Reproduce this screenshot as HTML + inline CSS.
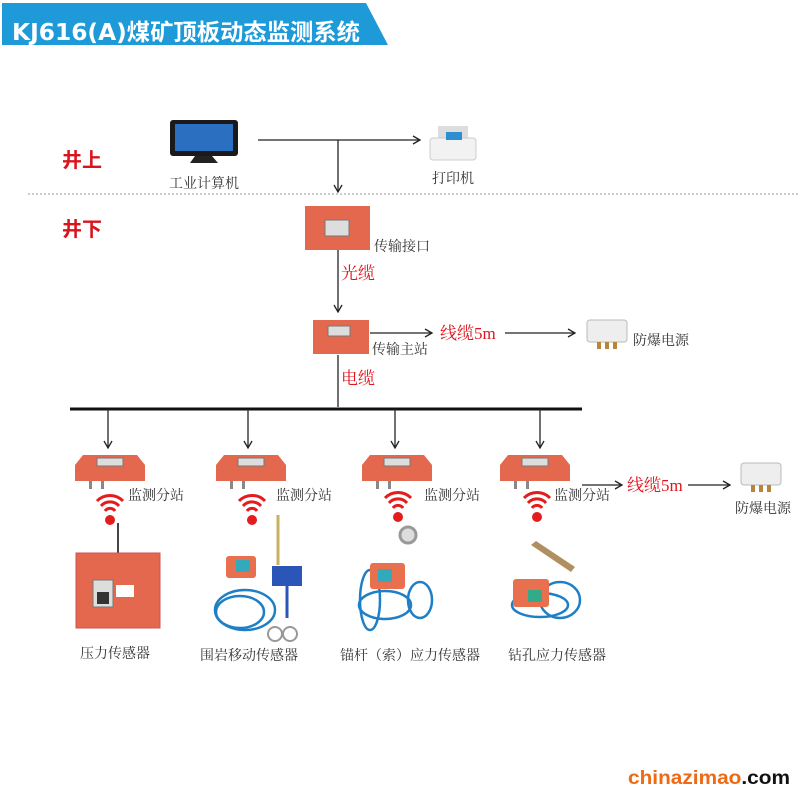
<!DOCTYPE html>
<html><head><meta charset="utf-8"><style>
html,body{margin:0;padding:0;background:#fff}
svg{display:block}
.t{font-family:"Liberation Serif","Noto Serif CJK SC",serif;fill:#333;font-size:14px}
.r{font-family:"Liberation Serif","Noto Serif CJK SC",serif;fill:#e0141e;font-size:17px}
.big{font-family:"Liberation Sans","Noto Sans CJK SC",sans-serif;fill:#d9141c;font-size:20px;font-weight:bold}
</style></head><body>
<svg width="800" height="800" viewBox="0 0 800 800" xmlns="http://www.w3.org/2000/svg">
<defs>
<marker id="a" markerWidth="10" markerHeight="10" refX="8" refY="5" orient="auto" markerUnits="userSpaceOnUse">
<path d="M1,1 L8,5 L1,9" fill="none" stroke="#222" stroke-width="1.3"/></marker>
<g id="box">
<path d="M0,10 L8,0 L62,0 L70,10 L70,26 L0,26 Z" fill="#e4684e"/>
<rect x="22" y="3" width="26" height="8" fill="#ddd" stroke="#777"/>
<rect x="14" y="26" width="3" height="8" fill="#888"/><rect x="26" y="26" width="3" height="8" fill="#888"/>
</g>
<g id="wifi">
<path d="M-13,-14 A18,18 0 0 1 13,-14" fill="none" stroke="#e31d1d" stroke-width="3"/>
<path d="M-9,-9 A12,12 0 0 1 9,-9" fill="none" stroke="#e31d1d" stroke-width="3"/>
<path d="M-5,-4 A6,6 0 0 1 5,-4" fill="none" stroke="#e31d1d" stroke-width="3"/>
<circle cx="0" cy="5" r="5" fill="#e31d1d"/>
</g>
<g id="psu">
<rect x="0" y="0" width="40" height="22" rx="3" fill="#eee" stroke="#bbb"/>
<rect x="10" y="22" width="4" height="7" fill="#b8863b"/><rect x="18" y="22" width="4" height="7" fill="#b8863b"/><rect x="26" y="22" width="4" height="7" fill="#b8863b"/>
</g>
</defs>
<path d="M2,3 L366,3 L388,45 L2,45 Z" fill="#1e9ad8"/>
<text x="12" y="40" font-family="DejaVu Sans,Noto Sans CJK SC,sans-serif" font-size="23" font-weight="bold" fill="#fff" textLength="348" lengthAdjust="spacingAndGlyphs">KJ616(A)煤矿顶板动态监测系统</text>

<text x="62" y="167" class="big">井上</text>
<text x="62" y="236" class="big">井下</text>

<rect x="170" y="120" width="68" height="36" rx="3" fill="#1a1a1a"/>
<rect x="175" y="124" width="58" height="27" fill="#2a6fc0"/>
<path d="M195,156 L212,156 L218,163 L190,163 Z" fill="#222"/>
<text x="169" y="188" class="t">工业计算机</text>
<rect x="438" y="126" width="30" height="14" fill="#ddd"/>
<rect x="430" y="138" width="46" height="22" rx="3" fill="#f2f2f2" stroke="#ccc"/>
<rect x="446" y="132" width="16" height="8" fill="#2d8fd0"/>
<text x="432" y="183" class="t">打印机</text>

<line x1="258" y1="140" x2="420" y2="140" stroke="#222" stroke-width="1.3" marker-end="url(#a)"/>
<line x1="338" y1="140" x2="338" y2="192" stroke="#222" stroke-width="1.3" marker-end="url(#a)"/>
<line x1="28" y1="194" x2="800" y2="194" stroke="#999" stroke-dasharray="2,2"/>

<rect x="305" y="206" width="65" height="44" fill="#e4684e"/>
<rect x="325" y="220" width="24" height="16" fill="#ddd" stroke="#777"/>
<text x="374" y="251" class="t">传输接口</text>
<text x="341" y="279" class="r">光缆</text>
<line x1="338" y1="250" x2="338" y2="312" stroke="#222" stroke-width="1.3" marker-end="url(#a)"/>

<rect x="313" y="320" width="56" height="34" fill="#e4684e"/>
<rect x="328" y="326" width="22" height="10" fill="#ddd" stroke="#777"/>
<text x="372" y="354" class="t">传输主站</text>
<line x1="370" y1="333" x2="432" y2="333" stroke="#222" stroke-width="1.3" marker-end="url(#a)"/>
<text x="440" y="339" class="r">线缆5m</text>
<line x1="505" y1="333" x2="575" y2="333" stroke="#222" stroke-width="1.3" marker-end="url(#a)"/>
<use href="#psu" x="587" y="320"/>
<text x="633" y="345" class="t">防爆电源</text>
<text x="341" y="384" class="r">电缆</text>
<line x1="338" y1="355" x2="338" y2="407" stroke="#222" stroke-width="1.3"/>

<line x1="70" y1="409" x2="582" y2="409" stroke="#111" stroke-width="3"/>
<g stroke="#222" stroke-width="1.3">
<line x1="108" y1="409" x2="108" y2="448" marker-end="url(#a)"/>
<line x1="248" y1="409" x2="248" y2="448" marker-end="url(#a)"/>
<line x1="395" y1="409" x2="395" y2="448" marker-end="url(#a)"/>
<line x1="540" y1="409" x2="540" y2="448" marker-end="url(#a)"/>
</g>
<use href="#box" x="75" y="455"/><use href="#box" x="216" y="455"/>
<use href="#box" x="362" y="455"/><use href="#box" x="500" y="455"/>
<text x="128" y="500" class="t">监测分站</text>
<text x="276" y="500" class="t">监测分站</text>
<text x="424" y="500" class="t">监测分站</text>
<text x="554" y="500" class="t">监测分站</text>
<use href="#wifi" x="110" y="515"/><use href="#wifi" x="252" y="515"/>
<use href="#wifi" x="398" y="512"/><use href="#wifi" x="537" y="512"/>
<line x1="582" y1="485" x2="622" y2="485" stroke="#222" stroke-width="1.3" marker-end="url(#a)"/>
<text x="627" y="491" class="r">线缆5m</text>
<line x1="688" y1="485" x2="730" y2="485" stroke="#222" stroke-width="1.3" marker-end="url(#a)"/>
<use href="#psu" x="741" y="463"/>
<text x="735" y="513" class="t">防爆电源</text>

<line x1="118" y1="523" x2="118" y2="553" stroke="#444" stroke-width="2"/>
<rect x="76" y="553" width="84" height="75" fill="#e4684e" stroke="#c55"/>
<rect x="93" y="580" width="20" height="27" fill="#ddd" stroke="#777"/>
<rect x="97" y="592" width="12" height="12" fill="#333"/>
<rect x="116" y="585" width="18" height="12" fill="#fff"/>
<text x="80" y="658" class="t">压力传感器</text>

<g fill="none" stroke="#1f7fc6" stroke-width="2.5">
<ellipse cx="245" cy="610" rx="30" ry="20"/><ellipse cx="240" cy="612" rx="24" ry="16"/>
<ellipse cx="370" cy="600" rx="10" ry="30"/><ellipse cx="420" cy="600" rx="12" ry="18"/>
<ellipse cx="385" cy="605" rx="26" ry="14"/>
<ellipse cx="560" cy="600" rx="20" ry="18"/><ellipse cx="540" cy="605" rx="28" ry="12"/>
</g>
<rect x="226" y="556" width="30" height="22" rx="3" fill="#e8704f"/>
<rect x="236" y="560" width="14" height="12" fill="#3ab"/>
<line x1="278" y1="515" x2="278" y2="565" stroke="#c8b060" stroke-width="3"/>
<rect x="272" y="566" width="30" height="20" fill="#2c55b8"/>
<line x1="287" y1="586" x2="287" y2="618" stroke="#2c55b8" stroke-width="3"/>
<circle cx="275" cy="634" r="7" fill="none" stroke="#999" stroke-width="2"/><circle cx="290" cy="634" r="7" fill="none" stroke="#999" stroke-width="2"/>
<text x="200" y="660" class="t">围岩移动传感器</text>

<circle cx="408" cy="535" r="8" fill="#ddd" stroke="#999" stroke-width="3"/>
<rect x="370" y="563" width="35" height="26" rx="3" fill="#e8704f"/>
<rect x="378" y="569" width="14" height="13" fill="#3ab"/>
<text x="340" y="660" class="t">锚杆（索）应力传感器</text>

<path d="M531,545 L536,541 L575,567 L571,572 Z" fill="#b09060"/>
<rect x="513" y="579" width="36" height="28" rx="3" fill="#e8704f"/>
<rect x="528" y="590" width="14" height="12" fill="#3a8"/>
<text x="508" y="660" class="t">钻孔应力传感器</text>

<text x="628" y="784" font-family="Liberation Sans,sans-serif" font-weight="bold" font-size="19" fill="#ef6a14" textLength="162" lengthAdjust="spacingAndGlyphs">chinazimao<tspan fill="#111">.com</tspan></text>
</svg>
</body></html>
